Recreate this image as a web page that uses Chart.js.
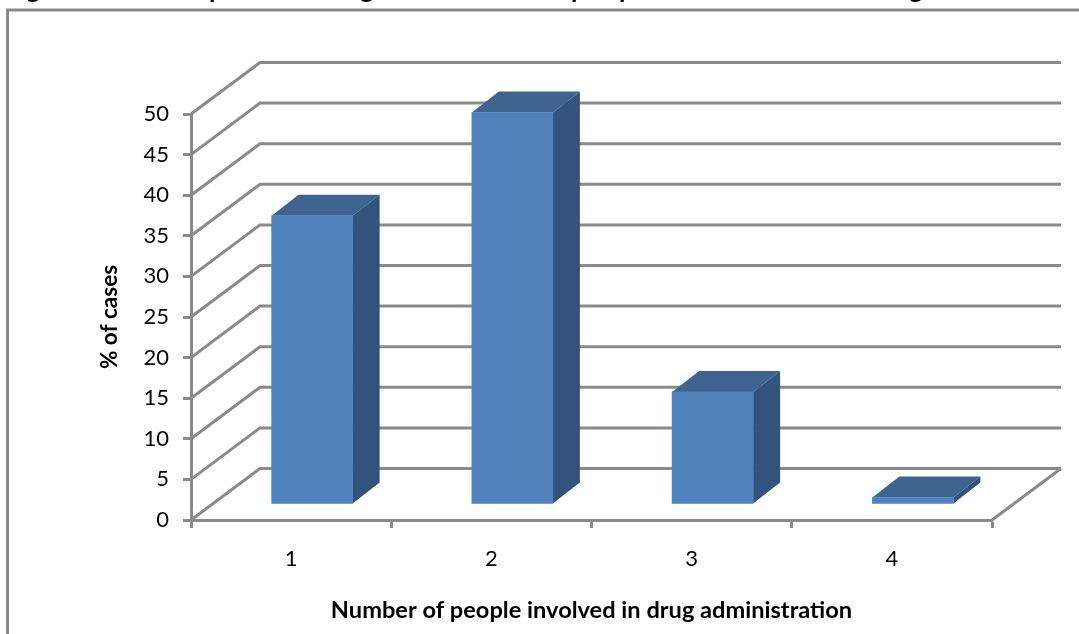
<!DOCTYPE html>
<html lang="en">
<head>
  <meta charset="UTF-8">
  <title>Number of people involved in drug administration</title>
  <script src="https://cdn.jsdelivr.net/npm/chart.js"></script>
  <style>
    html, body { margin: 0; padding: 0; background: #fff; overflow: hidden; }
    canvas { display: block; }
  </style>
</head>
<body>
  <canvas id="peopleChart" width="1079" height="634"></canvas>

  <script>
    const categories = ['1', '2', '3', '4'];
    const percentCases = [35.5, 48.2, 13.8, 0.8];
    const yTicks = [0, 5, 10, 15, 20, 25, 30, 35, 40, 45, 50];
    const xAxisTitle = 'Number of people involved in drug administration';
    const yAxisTitle = '% of cases';
    // heading runs off the top edge, only these letters can still be made out
    const headingWords = [['Figure', 5], ['p', 209], ['g', 360], ['p', 571], ['p', 619], ['g', 909]];

    const FONT = 'Lato, sans-serif';
    const GREY = '#8a8a8a';
    const FRONT = '#4f81bd', TOP = '#3e638f', SIDE = '#32537b';
    const WALL_DX = 69, WALL_DY = 51.5;  // depth of the chart box
    const BAR_DX = 27, BAR_DY = 21;      // depth of a bar
    const BAR_SHIFT_X = 21, BAR_SHIFT_Y = 16; // bars stand in the middle of the floor

    function line(ctx, pts) {
      ctx.beginPath();
      pts.forEach(([x, y], i) => i ? ctx.lineTo(x, y) : ctx.moveTo(x, y));
      ctx.stroke();
    }

    function poly(ctx, pts, color) {
      ctx.fillStyle = color;
      ctx.beginPath();
      pts.forEach(([x, y], i) => i ? ctx.lineTo(x, y) : ctx.moveTo(x, y));
      ctx.closePath();
      ctx.fill();
    }

    const boxPlugin = {
      id: 'box',
      beforeDatasetsDraw(chart) {
        const { ctx, chartArea: a, scales: { y } } = chart;
        ctx.save();
        ctx.strokeStyle = GREY;
        ctx.lineWidth = 3;
        // outer frame, open at right and bottom
        line(ctx, [[7.5, 634], [7.5, 10], [1079, 10]]);
        // side wall and back wall lines
        yTicks.forEach(v => {
          const py = y.getPixelForValue(v);
          line(ctx, [[a.left, py], [a.left + WALL_DX, py - WALL_DY], [a.right + WALL_DX, py - WALL_DY]]);
        });
        // floor edge on the right
        line(ctx, [[a.right, a.bottom], [a.right + WALL_DX, a.bottom - WALL_DY]]);
        // heading
        ctx.fillStyle = '#000';
        ctx.font = 'bold 26px ' + FONT;
        ctx.textBaseline = 'alphabetic';
        headingWords.forEach(([word, x]) => ctx.fillText(word, x, -2));
        ctx.restore();
      },
      beforeDatasetDraw(chart, args) {
        const ctx = chart.ctx;
        ctx.save();
        ctx.translate(BAR_SHIFT_X, -BAR_SHIFT_Y);
        args.meta.data.forEach(bar => {
          const { x, y, base, width } = bar.getProps(['x', 'y', 'base', 'width'], true);
          const l = x - width / 2, r = x + width / 2;
          poly(ctx, [[r, y], [r + BAR_DX, y - BAR_DY], [r + BAR_DX, base - BAR_DY], [r, base]], SIDE);
          poly(ctx, [[l, y], [l + BAR_DX, y - BAR_DY], [r + BAR_DX, y - BAR_DY], [r, y]], TOP);
        });
      },
      afterDatasetDraw(chart) {
        chart.ctx.restore();
      }
    };

    new Chart(document.getElementById('peopleChart').getContext('2d'), {
      type: 'bar',
      data: {
        labels: categories,
        datasets: [{
          data: percentCases,
          backgroundColor: FRONT,
          borderWidth: 0,
          barThickness: 81,
          clip: false
        }]
      },
      plugins: [boxPlugin],
      options: {
        animation: false,
        responsive: false,
        layout: { padding: { top: 114, right: 87, bottom: 0, left: 0 } },
        plugins: { legend: { display: false }, tooltip: { enabled: false } },
        scales: {
          x: {
            afterFit: s => { s.height = 114; },
            border: { color: GREY, width: 3 },
            grid: { drawOnChartArea: false, tickColor: GREY, tickWidth: 3, tickLength: 8 },
            ticks: { color: '#000', font: { family: FONT, size: 22 }, padding: 18, maxRotation: 0 },
            title: {
              display: true, text: xAxisTitle, color: '#000',
              font: { family: FONT, size: 23.6, weight: 'bold' },
              padding: { top: 0, bottom: 9 }
            }
          },
          y: {
            min: 0, max: 50,
            afterFit: s => { s.width = 191; },
            border: { color: GREY, width: 3 },
            grid: { drawOnChartArea: false, tickColor: GREY, tickWidth: 3, tickLength: 8 },
            ticks: { stepSize: 5, color: '#000', font: { family: FONT, size: 22 }, padding: 14 },
            title: {
              display: true, text: yAxisTitle, color: '#000',
              font: { family: FONT, size: 22.5, weight: 'bold' },
              padding: { top: 96, bottom: 0 }
            }
          }
        }
      }
    });
  </script>
</body>
</html>
